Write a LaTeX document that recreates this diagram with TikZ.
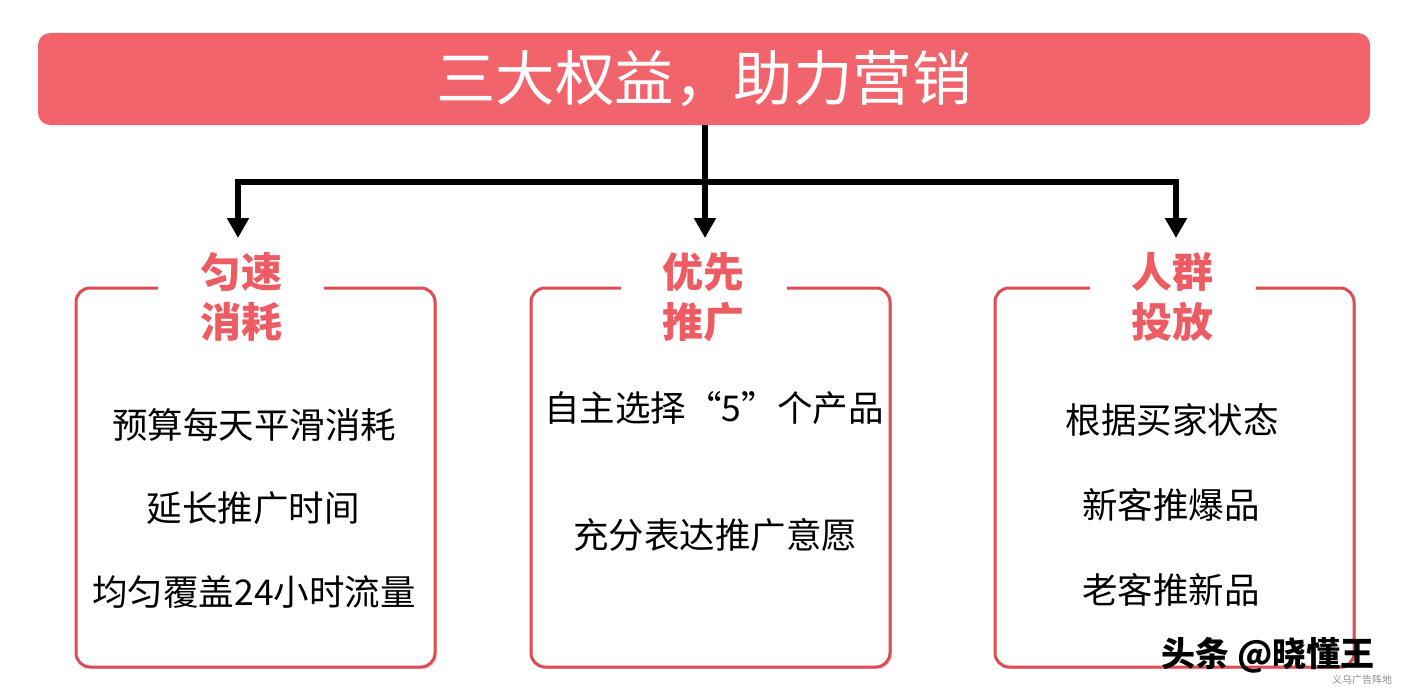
\documentclass[tikz,border=0pt]{standalone}
\usepackage{fontspec}
\setmainfont{Noto Sans CJK SC}
\usetikzlibrary{arrows.meta,shadows}
\definecolor{titlered}{HTML}{F1646B}
\definecolor{borderred}{HTML}{DF4A53}
\definecolor{headred}{HTML}{ED5B63}
\tikzset{
  titlebox/.style={fill=titlered, rounded corners=12pt, minimum width=1332pt, minimum height=92pt, text=white, font=\fontsize{59.5}{66}\selectfont, inner sep=0pt},
  panel/.style={draw=borderred, line width=3pt, fill=white, rounded corners=14pt, minimum width=359pt, minimum height=379pt, inner sep=0pt,
    drop shadow={shadow xshift=2pt, shadow yshift=-2pt, fill=black!25, opacity=0.6}},
  head/.style={fill=white, text=headred, align=center, minimum width=166pt, inner xsep=0pt, inner ysep=2pt, font=\fontsize{41}{50}\selectfont\bfseries},
  item/.style={font=\fontsize{35.5}{40}\selectfont, inner sep=0pt},
  conn/.style={line width=6pt, line join=miter, -{Triangle[width=21pt,length=20pt]}},
  trunk/.style={line width=6pt},
}
\begin{document}
\begin{tikzpicture}[x=1pt,y=-1pt]
\useasboundingbox (0,0) rectangle (1401,693);
\node[titlebox] (title) at (704,79) {三大权益，助力营销};

\node[panel] (b1) at (255.5,477.5) {};
\node[panel] (b2) at (710.5,477.5) {};
\node[panel] (b3) at (1174.5,477.5) {};

\node[head] (h1) at (241,297) {匀速\\消耗};
\node[head] (h2) at (703.5,297) {优先\\推广};
\node[head] (h3) at (1172.5,297) {人群\\投放};

\coordinate (j) at (705,182);
\coordinate (t1) at (238,238);
\coordinate (t2) at (705,238);
\coordinate (t3) at (1176,238);
\draw[trunk] (title.south -| j) -- (j);
\draw[conn] (j) -| (t1);
\draw[conn] (j) -| (t3);
\draw[conn] (j) -- (t2);

\node[item] (l1) at (254,425) {预算每天平滑消耗};
\node[item] (l2) at (253,508) {延长推广时间};
\node[item] (l3) at (254,592) {均匀覆盖24小时流量};

\node[item] (m1) at (714,408) {自主选择“5”个产品};
\node[item] (m2) at (715,535) {充分表达推广意愿};

\node[item] (r1) at (1172,420) {根据买家状态};
\node[item] (r2) at (1171,505) {新客推爆品};
\node[item] (r3) at (1171,590) {老客推新品};

\node[font=\fontsize{34}{38}\selectfont\bfseries, inner sep=0pt] (wm) at (1268,655) {头条 @晓懂王};
\node[font=\fontsize{10}{12}\selectfont, text=black!45, inner sep=0pt] (wm2) at (1362,680) {义乌广告阵地};
\end{tikzpicture}
\end{document}
